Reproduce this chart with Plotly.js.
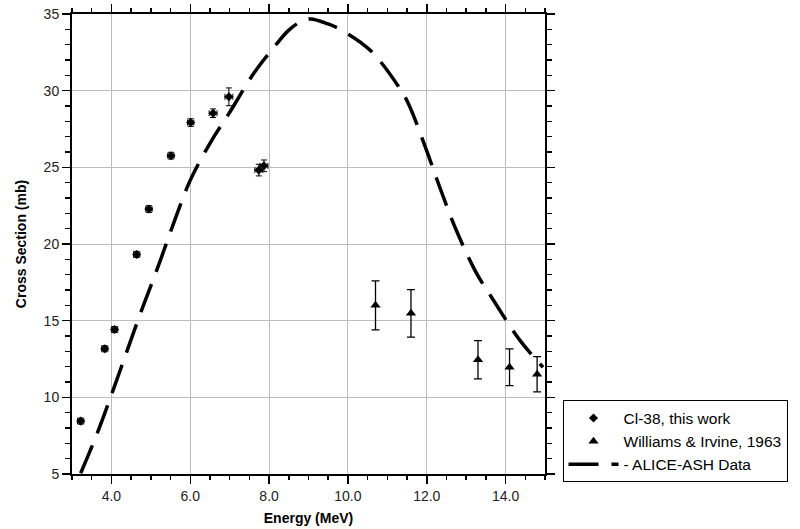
<!DOCTYPE html>
<html>
<head>
<meta charset="utf-8">
<script src="https://cdn.plot.ly/plotly-3.0.1.min.js"></script>
<style>html,body{margin:0;padding:0;background:#fff;}#chart{width:800px;height:529px;}</style>
</head>
<body>
<div id="chart"></div>
<script>
// Cl-38, this work
const clX = [3.22, 3.83, 4.08, 4.64, 4.95, 5.51, 6.01, 6.58, 6.98, 7.74, 7.87];
const clY = [8.45, 13.17, 14.42, 19.32, 22.28, 25.76, 27.92, 28.53, 29.6, 24.82, 25.1];
const clYErr = [0.2, 0.2, 0.2, 0.2, 0.22, 0.22, 0.25, 0.28, 0.58, 0.38, 0.38];
const clXErr = [0.08, 0.08, 0.08, 0.08, 0.08, 0.08, 0.08, 0.1, 0.1, 0.1, 0.1];

// Williams & Irvine, 1963
const wiX = [10.7, 11.6, 13.3, 14.1, 14.8];
const wiY = [16.0, 15.48, 12.45, 11.96, 11.5];
const wiErr = [1.6, 1.55, 1.25, 1.2, 1.15];

// ALICE-ASH Data
const alX = [3.22, 3.65, 4.03, 4.41, 4.79, 5.19, 5.57, 5.99, 6.53, 6.98, 7.63, 8.1, 8.48, 8.8, 9.05, 9.5, 9.87, 10.58, 11.34, 11.55, 11.96, 12.33, 12.75, 13.24, 13.66, 14.37, 14.95];
const alY = [5.05, 7.72, 10.37, 13.13, 15.85, 18.57, 21.29, 24.1, 26.7, 28.5, 31.2, 32.75, 33.9, 34.5, 34.68, 34.35, 33.9, 32.6, 30.05, 29.07, 26.35, 23.7, 20.9, 18.2, 16.46, 13.7, 11.96];

const xTickVals = [4, 6, 8, 10, 12, 14];
const xTickText = ['4.0', '6.0', '8.0', '10.0', '12.0', '14.0'];
const yTickVals = [5, 10, 15, 20, 25, 30, 35];

const font = 'Liberation Sans, Arial, Helvetica, sans-serif';

const traces = [
  {
    x: clX, y: clY, type: 'scatter', mode: 'markers', name: 'Cl-38, this work',
    legendgroup: 'a',
    marker: {symbol: 'diamond', size: 7, color: '#000'},
    error_y: {type: 'data', array: clYErr, visible: true, color: '#000', thickness: 1, width: 3},
    error_x: {type: 'data', array: clXErr, visible: true, color: '#000', thickness: 1, width: 3}
  },
  {
    x: wiX, y: wiY, type: 'scatter', mode: 'markers', name: 'Williams & Irvine, 1963',
    legendgroup: 'b',
    marker: {symbol: 'triangle-up', size: 9, color: '#000'},
    error_y: {type: 'data', array: wiErr, visible: true, color: '#000', thickness: 1.3, width: 4}
  },
  {
    x: alX, y: alY, type: 'scatter', mode: 'lines', name: '- ALICE-ASH Data',
    legendgroup: 'c',
    line: {color: '#000', width: 3.5, dash: '30px,13px', shape: 'spline', smoothing: 1}
  }
];

const axisCommon = {
  showline: true, linecolor: '#000', linewidth: 2, mirror: 'ticks',
  ticks: 'outside', ticklen: 8, tickwidth: 1.5, tickcolor: '#000',
  showgrid: true, gridcolor: '#bdbdbd', gridwidth: 1,
  zeroline: false,
  tickfont: {family: font, size: 14, color: '#222'}
};

const layout = {
  width: 800, height: 529,
  paper_bgcolor: '#fff', plot_bgcolor: '#fff',
  margin: {l: 72, r: 252, t: 14, b: 55},
  showlegend: true,
  font: {family: font, color: '#000'},
  xaxis: Object.assign({}, axisCommon, {
    range: [3, 15], tickvals: xTickVals, ticktext: xTickText,
    minor: {dtick: 0.5, tick0: 3, ticks: 'outside', ticklen: 4, tickwidth: 1.5, tickcolor: '#000', showgrid: false},
    title: {text: '<b>Energy (MeV)</b>', font: {family: font, size: 14, color: '#000'}, standoff: 10}
  }),
  yaxis: Object.assign({}, axisCommon, {
    range: [5, 35], tickvals: yTickVals,
    minor: {dtick: 1, tick0: 5, ticks: 'outside', ticklen: 5, tickwidth: 1.5, tickcolor: '#000', showgrid: false},
    title: {text: '<b>Cross Section (mb)</b>', font: {family: font, size: 14, color: '#000'}, standoff: 14}
  }),
  legend: {
    x: 1.037, xanchor: 'left', y: 0.16, yanchor: 'top',
    bgcolor: '#fff', bordercolor: '#000', borderwidth: 1,
    font: {family: font, size: 15.5, color: '#000'},
    itemwidth: 50,
    traceorder: 'grouped', tracegroupgap: 0
  }
};

Plotly.newPlot('chart', traces, layout, {staticPlot: true, displayModeBar: false});
</script>
</body>
</html>
